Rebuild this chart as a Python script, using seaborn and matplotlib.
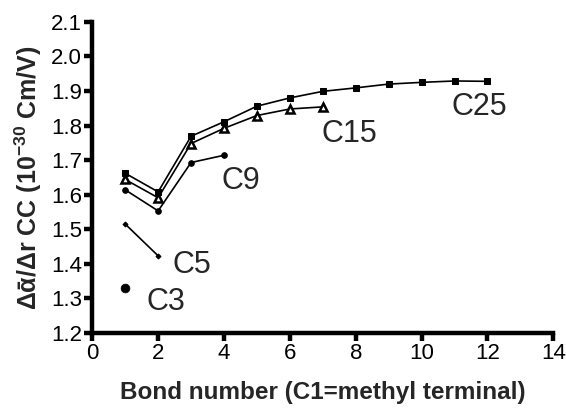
import matplotlib
matplotlib.use("Agg")
import matplotlib.pyplot as plt
import seaborn as sns
import pandas as pd

sns.set_theme(style="ticks")
plt.rcParams['font.family'] = ['Liberation Sans', 'DejaVu Sans']
plt.rcParams['mathtext.fontset'] = 'custom'
plt.rcParams['mathtext.rm'] = 'Liberation Sans'
plt.rcParams['mathtext.bf'] = 'Liberation Sans:bold'

x_c25 = [1, 2, 3, 4, 5, 6, 7, 8, 9, 10, 11, 12]
y_c25 = [1.662, 1.608, 1.769, 1.811, 1.856, 1.880, 1.899, 1.909, 1.920, 1.925, 1.929, 1.928]
x_c15 = [1, 2, 3, 4, 5, 6, 7]
y_c15 = [1.644, 1.591, 1.748, 1.792, 1.829, 1.848, 1.854]
x_c9 = [1, 2, 3, 4]
y_c9 = [1.614, 1.553, 1.693, 1.714]
x_c5 = [1, 2]
y_c5 = [1.515, 1.423]
x_c3 = [1]
y_c3 = [1.329]

labels = ["C3", "C5", "C9", "C15", "C25"]
label_x = [1.65, 2.45, 3.93, 6.97, 10.91]
label_y = [1.29, 1.397, 1.639, 1.775, 1.855]

fig = plt.figure(figsize=(5.66, 4.13), dpi=100)
ax = fig.add_axes([0.163, 0.194, 0.8146, 0.753])

sns.lineplot(x=x_c25, y=y_c25, ax=ax, color='black', lw=1.2, marker='s',
             markersize=5, markeredgecolor='black', markerfacecolor='black')
sns.lineplot(x=x_c15, y=y_c15, ax=ax, color='black', lw=1.2, marker='^',
             markersize=6, markeredgecolor='black', markerfacecolor='white',
             markeredgewidth=1.8)
sns.lineplot(x=x_c9, y=y_c9, ax=ax, color='black', lw=1.2, marker='o',
             markersize=4, markeredgecolor='black', markerfacecolor='black')
sns.lineplot(x=x_c5, y=y_c5, ax=ax, color='black', lw=1.2, marker='D',
             markersize=2.5, markeredgecolor='black', markerfacecolor='black')
sns.scatterplot(x=x_c3, y=y_c3, ax=ax, color='black', s=40, marker='o',
                edgecolor='black')

for t, lx, ly in zip(labels, label_x, label_y):
    ax.text(lx, ly, t, fontsize=22, va='center', ha='left')

ax.set_xlim(0, 14)
ax.set_ylim(1.2, 2.1)
ax.set_xticks(range(0, 15, 2))
ax.set_yticks([1.2, 1.3, 1.4, 1.5, 1.6, 1.7, 1.8, 1.9, 2.0, 2.1])
ax.set_yticklabels(['1.2', '1.3', '1.4', '1.5', '1.6', '1.7', '1.8', '1.9', '2.0', '2.1'])
sns.despine(ax=ax)
for s in ['left', 'bottom']:
    ax.spines[s].set_linewidth(3.2)
    ax.spines[s].set_color('black')
ax.tick_params(axis='both', direction='out', length=6, width=3.2, labelsize=16,
               colors='black', pad=1.5)

ax.set_xlabel('Bond number (C1=methyl terminal)', fontsize=17.5, fontweight='bold', labelpad=12)
ax.set_ylabel('Δᾱ/Δr CC (10$^{\\mathbf{-30}}$ Cm/V)', fontsize=18, fontweight='bold', labelpad=5)

fig.savefig('out.png', dpi=100)
